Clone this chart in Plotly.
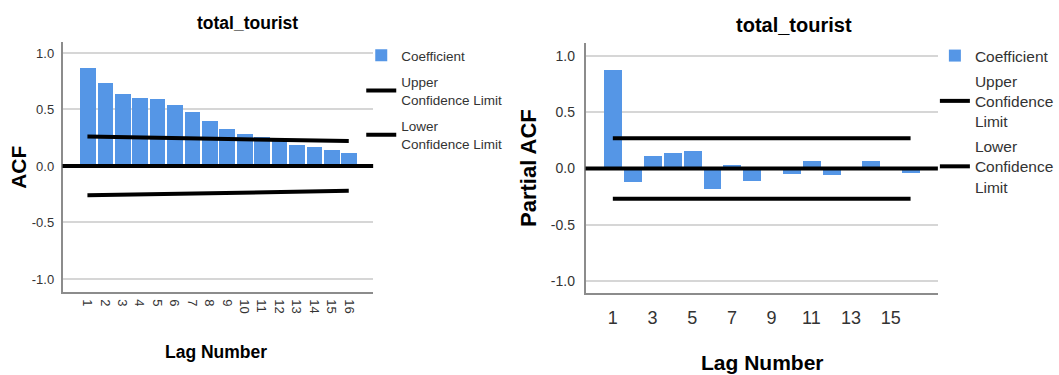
import plotly.graph_objects as go

# ---------------- data ----------------
lags = list(range(1, 17))
acf_values = [0.870, 0.737, 0.640, 0.600, 0.595, 0.542, 0.478, 0.398,
              0.328, 0.286, 0.258, 0.243, 0.189, 0.169, 0.141, 0.117]
acf_ci_lags = [1, 16]
acf_upper = [0.26, 0.22]
acf_lower = [-0.26, -0.22]

pacf_values = [0.875, -0.120, 0.107, 0.138, 0.159, -0.181, 0.027, -0.112,
               0.008, -0.048, 0.070, -0.056, 0.010, 0.063, -0.008, -0.043]
pacf_ci_lags = [1, 16]
pacf_upper = [0.27, 0.27]
pacf_lower = [-0.27, -0.27]

y_ticks = [-1.0, -0.5, 0.0, 0.5, 1.0]
y_tick_text = ["-1.0", "-0.5", "0.0", "0.5", "1.0"]
left_x_ticks = lags
right_x_ticks = [1, 3, 5, 7, 9, 11, 13, 15]

chart_title = "total_tourist"
# ---------------------------------------

W, H = 1059, 375
BLUE = "#5596e6"
FONT = "Liberation Sans, Arial, sans-serif"
TXT = "#333333"


def px(x):
    return x / W


def py(y):
    return 1 - y / H


fig = go.Figure()

# Left: ACF
fig.add_trace(go.Bar(x=lags, y=acf_values, name="Coefficient", marker=dict(color=BLUE, line=dict(width=0)),
                     width=0.9, xaxis="x", yaxis="y", legend="legend", legendgroup="a1"))
fig.add_trace(go.Scatter(x=acf_ci_lags, y=acf_upper, mode="lines", name="Upper<br>Confidence Limit",
                         line=dict(color="black", width=4), xaxis="x", yaxis="y", legend="legend",
                         legendgroup="a2"))
fig.add_trace(go.Scatter(x=acf_ci_lags, y=acf_lower, mode="lines", name="Lower<br>Confidence Limit",
                         line=dict(color="black", width=4), xaxis="x", yaxis="y", legend="legend",
                         legendgroup="a3"))

# Right: PACF
fig.add_trace(go.Bar(x=lags, y=pacf_values, name="Coefficient", marker=dict(color=BLUE, line=dict(width=0)),
                     width=0.9, xaxis="x2", yaxis="y2", legend="legend2", legendgroup="b1"))
fig.add_trace(go.Scatter(x=pacf_ci_lags, y=pacf_upper, mode="lines", name="Upper<br>Confidence<br>Limit",
                         line=dict(color="black", width=4), xaxis="x2", yaxis="y2", legend="legend2",
                         legendgroup="b2"))
fig.add_trace(go.Scatter(x=pacf_ci_lags, y=pacf_lower, mode="lines", name="Lower<br>Confidence<br>Limit",
                         line=dict(color="black", width=4), xaxis="x2", yaxis="y2", legend="legend2",
                         legendgroup="b3"))

common_y = dict(tickmode="array", tickvals=y_ticks, ticktext=y_tick_text, showgrid=True,
                gridcolor="#d6d6d6", gridwidth=2, zeroline=False, showline=True,
                linecolor="#8c8c8c", linewidth=1.5, ticks="", fixedrange=True)
common_x = dict(showgrid=False, zeroline=False, showline=True, linecolor="#8c8c8c",
                linewidth=1.5, ticks="", tickmode="array", fixedrange=True)

fig.update_layout(
    width=W, height=H, margin=dict(l=0, r=0, t=0, b=0),
    paper_bgcolor="white", plot_bgcolor="white", bargap=0,
    xaxis=dict(common_x, domain=[px(63), px(376)], range=[-0.43, 17.4], tickvals=left_x_ticks,
               ticktext=[str(v) for v in left_x_ticks], tickangle=90,
               tickfont=dict(family=FONT, size=13, color=TXT), ticklabelstandoff=3, anchor="y"),
    yaxis=dict(common_y, domain=[py(292), py(42)], range=[-1.115, 1.097],
               tickfont=dict(family=FONT, size=13, color=TXT), ticklabelstandoff=4, anchor="x"),
    xaxis2=dict(common_x, domain=[px(590), px(945)], range=[-0.375, 17.375], tickvals=right_x_ticks,
                ticktext=[str(v) for v in right_x_ticks], tickangle=0,
                tickfont=dict(family=FONT, size=18, color=TXT), ticklabelstandoff=7, anchor="y2"),
    yaxis2=dict(common_y, domain=[py(293.3), py(43)], range=[-1.11, 1.116],
                tickfont=dict(family=FONT, size=14, color=TXT), ticklabelstandoff=6, anchor="x2"),
    legend=dict(x=px(364), y=py(40), xanchor="left", yanchor="top", bgcolor="rgba(0,0,0,0)",
                font=dict(family=FONT, size=13.5, color=TXT), traceorder="grouped", tracegroupgap=6,
                itemclick=False, itemdoubleclick=False),
    legend2=dict(x=px(942), y=py(39), xanchor="left", yanchor="top", bgcolor="rgba(0,0,0,0)",
                 font=dict(family=FONT, size=15.5, color=TXT), traceorder="grouped", tracegroupgap=2,
                 itemclick=False, itemdoubleclick=False),
    shapes=[
        dict(type="line", xref="x domain", yref="y", x0=0, x1=1, y0=0, y1=0,
             line=dict(color="black", width=4), layer="above"),
        dict(type="line", xref="x2 domain", yref="y2", x0=0, x1=1, y0=0, y1=0,
             line=dict(color="black", width=4), layer="above"),
    ],
    annotations=[
        dict(text=chart_title, x=px(249), y=py(23), xref="paper", yref="paper", showarrow=False,
             font=dict(family=FONT, size=17.5, color="black", weight="bold"), xanchor="center", yanchor="middle"),
        dict(text=chart_title, x=px(800), y=py(25), xref="paper", yref="paper", showarrow=False,
             font=dict(family=FONT, size=20, color="black", weight="bold"), xanchor="center", yanchor="middle"),
        dict(text="ACF", x=px(18), y=py(167), xref="paper", yref="paper", showarrow=False, textangle=-90,
             font=dict(family=FONT, size=21, color="black", weight="bold"), xanchor="center", yanchor="middle"),
        dict(text="Partial ACF", x=px(533), y=py(168), xref="paper", yref="paper", showarrow=False, textangle=-90,
             font=dict(family=FONT, size=22, color="black", weight="bold"), xanchor="center", yanchor="middle"),
        dict(text="Lag Number", x=px(218), y=py(352), xref="paper", yref="paper", showarrow=False,
             font=dict(family=FONT, size=17.5, color="black", weight="bold"), xanchor="center", yanchor="middle"),
        dict(text="Lag Number", x=px(768), y=py(362), xref="paper", yref="paper", showarrow=False,
             font=dict(family=FONT, size=21, color="black", weight="bold"), xanchor="center", yanchor="middle"),
    ],
)

fig.write_html("out.html", config={"displayModeBar": False},
               post_script="document.body.style.margin='0';document.body.style.overflow='hidden';")
